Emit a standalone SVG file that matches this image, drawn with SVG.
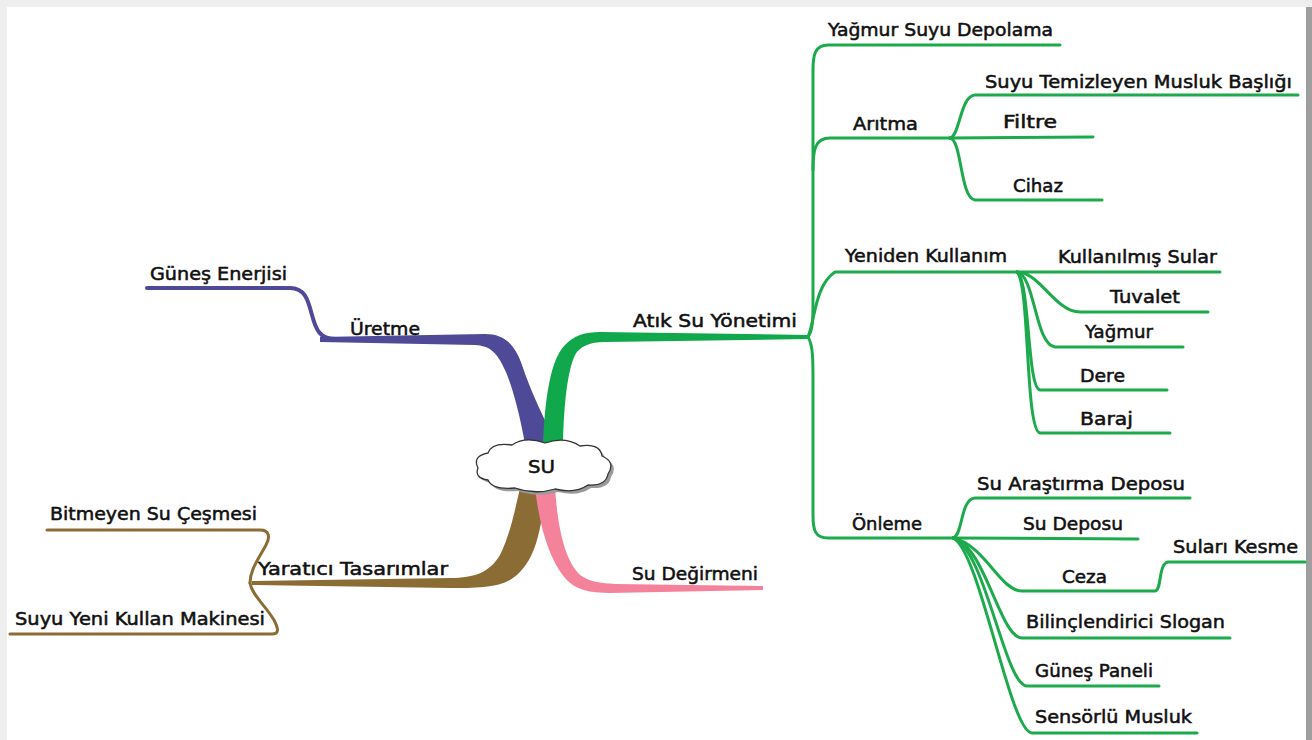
<svg xmlns="http://www.w3.org/2000/svg" width="1312" height="740" viewBox="0 0 1312 740">
<style>
.t{font-family:"DejaVu Sans","Liberation Sans",sans-serif;font-size:18.5px;fill:#111;stroke:#111;stroke-width:0.55px;}
.g{fill:none;stroke:#1caa4c;stroke-width:3;stroke-linecap:round;stroke-linejoin:round;}
.p{fill:none;stroke:#4e4a98;stroke-width:4;stroke-linecap:round;}
.b{fill:none;stroke:#8c6c35;stroke-width:3;stroke-linecap:round;}
</style>
<rect width="1312" height="740" fill="#ffffff"/>
<rect x="0" y="0" width="1312" height="7" fill="#eeeeee"/>
<rect x="0" y="0" width="7" height="740" fill="#eeeeee"/>
<rect x="1306" y="7" width="6" height="733" fill="#9e9e9e"/>
<g id="connectors">
  <path d="M320,337 L485,334 C505,334 515,345 522,365 C530,390 545,420 556,444 L525,444 C520,415 512,385 505,370 C497,352 490,346 475,345 L320,342 Z" fill="#4e4a98"/>
  <path d="M543,444 C545,400 550,360 565,345 C575,335 585,332 600,332 L808,335 L808,339 L605,342 C590,342 580,346 575,355 C568,370 564,400 563,444 Z" fill="#10a84b"/>
  <path d="M545,488 C542,530 535,565 510,580 C495,588 475,588 450,588 L252,585 L252,581 L450,578 C475,578 490,572 500,555 C510,535 515,510 520,488 Z" fill="#8c6c35"/>
  <path d="M555,488 C558,530 565,560 580,575 C590,582 600,583 615,584 L763,586 L763,590 L610,593 C590,593 575,590 565,578 C550,560 540,530 535,488 Z" fill="#f4829b"/>
  <path class="p" d="M147,288 L290,288 C305,288 308,300 312,315 C316,330 320,339 335,339"/>
  <path class="b" d="M47,530 L260,530 C270,530 270,538 266,545 C258,560 250,570 250,583"/>
  <path class="b" d="M10,634 L272,634 C280,634 278,628 274,620 C265,605 252,595 250,583"/>
  <path class="g" d="M808,337 C813,330 813,320 813,300 L813,70 C813,55 815,45 828,45 L1060,45"/>
  <path class="g" d="M813,170 C813,150 815,138 830,138 L950,138"/>
  <path class="g" d="M808,337 C815,320 815,285 835,272 L1220,272"/>
  <path class="g" d="M808,337 C813,345 813,360 813,380 L813,515 C813,530 815,538 828,538 L953,538"/>
  <path class="g" d="M1017,272 C1040,272 1055,312 1080,312 L1208,312"/>
  <path class="g" d="M1017,272 C1035,275 1035,345 1055,347 L1183,347"/>
  <path class="g" d="M1017,272 C1030,280 1027,388 1040,390 L1167,390"/>
  <path class="g" d="M1017,272 C1030,285 1025,430 1040,433 L1170,433"/>
  <path class="g" d="M950,138 C960,136 960,96 975,95 L1298,95"/>
  <path class="g" d="M950,138 L1093,137"/>
  <path class="g" d="M950,138 C962,140 960,198 975,200 L1102,200"/>
  <path class="g" d="M953,538 C963,536 960,499 975,498 L1190,498"/>
  <path class="g" d="M953,538 L1138,539"/>
  <path class="g" d="M953,538 C985,545 1000,591 1022,591 L1155,591 C1162,590 1158,564 1168,562 L1305,562"/>
  <path class="g" d="M953,538 C985,545 1000,638 1022,638 L1230,638"/>
  <path class="g" d="M953,538 C985,548 1005,686 1027,686 L1159,686"/>
  <path class="g" d="M953,538 C980,550 1010,733 1032,733 L1197,733"/>
</g>
<g id="node-su">
  <path d="M478,468 Q472,456 488,453 Q492,442 512,445 Q525,436 545,443 Q565,436 580,446 Q600,443 602,456 Q616,462 608,474 Q606,486 588,485 Q575,494 555,489 Q535,495 515,488 Q492,490 488,480 Q474,478 478,468 Z" fill="#9a9a9a" transform="translate(3,3)"/>
  <path d="M478,468 Q472,456 488,453 Q492,442 512,445 Q525,436 545,443 Q565,436 580,446 Q600,443 602,456 Q616,462 608,474 Q606,486 588,485 Q575,494 555,489 Q535,495 515,488 Q492,490 488,480 Q474,478 478,468 Z" fill="#ffffff" stroke="#333" stroke-width="1.3"/>
  <text class="t" x="528" y="473" textLength="27" lengthAdjust="spacingAndGlyphs">SU</text>
</g>
<g id="node-uretme"><text class="t" x="350" y="335" textLength="70" lengthAdjust="spacingAndGlyphs">Üretme</text></g>
<g id="node-gunes-enerjisi"><text class="t" x="150" y="280" textLength="137" lengthAdjust="spacingAndGlyphs">Güneş Enerjisi</text></g>
<g id="node-yaratici"><text class="t" x="258" y="575" textLength="190" lengthAdjust="spacingAndGlyphs">Yaratıcı Tasarımlar</text></g>
<g id="node-bitmeyen"><text class="t" x="50" y="520" textLength="207" lengthAdjust="spacingAndGlyphs">Bitmeyen Su Çeşmesi</text></g>
<g id="node-suyu-yeni"><text class="t" x="15" y="625" textLength="250" lengthAdjust="spacingAndGlyphs">Suyu Yeni Kullan Makinesi</text></g>
<g id="node-su-degirmeni"><text class="t" x="632" y="580" textLength="126" lengthAdjust="spacingAndGlyphs">Su Değirmeni</text></g>
<g id="node-atik"><text class="t" x="633" y="327" textLength="164" lengthAdjust="spacingAndGlyphs">Atık Su Yönetimi</text></g>
<g id="node-yagmur-depolama"><text class="t" x="828" y="36" textLength="225" lengthAdjust="spacingAndGlyphs">Yağmur Suyu Depolama</text></g>
<g id="node-aritma"><text class="t" x="853" y="130" textLength="65" lengthAdjust="spacingAndGlyphs">Arıtma</text></g>
<g id="node-musluk-basligi"><text class="t" x="985" y="88" textLength="307" lengthAdjust="spacingAndGlyphs">Suyu Temizleyen Musluk Başlığı</text></g>
<g id="node-filtre"><text class="t" x="1003" y="128" textLength="54" lengthAdjust="spacingAndGlyphs">Filtre</text></g>
<g id="node-cihaz"><text class="t" x="1013" y="192" textLength="50" lengthAdjust="spacingAndGlyphs">Cihaz</text></g>
<g id="node-yeniden"><text class="t" x="845" y="262" textLength="162" lengthAdjust="spacingAndGlyphs">Yeniden Kullanım</text></g>
<g id="node-kullanilmis"><text class="t" x="1058" y="263" textLength="159" lengthAdjust="spacingAndGlyphs">Kullanılmış Sular</text></g>
<g id="node-tuvalet"><text class="t" x="1110" y="303" textLength="70" lengthAdjust="spacingAndGlyphs">Tuvalet</text></g>
<g id="node-yagmur"><text class="t" x="1085" y="338" textLength="68" lengthAdjust="spacingAndGlyphs">Yağmur</text></g>
<g id="node-dere"><text class="t" x="1080" y="382" textLength="45" lengthAdjust="spacingAndGlyphs">Dere</text></g>
<g id="node-baraj"><text class="t" x="1080" y="425" textLength="53" lengthAdjust="spacingAndGlyphs">Baraj</text></g>
<g id="node-onleme"><text class="t" x="852" y="530" textLength="70" lengthAdjust="spacingAndGlyphs">Önleme</text></g>
<g id="node-arastirma"><text class="t" x="977" y="490" textLength="208" lengthAdjust="spacingAndGlyphs">Su Araştırma Deposu</text></g>
<g id="node-su-deposu"><text class="t" x="1023" y="530" textLength="100" lengthAdjust="spacingAndGlyphs">Su Deposu</text></g>
<g id="node-ceza"><text class="t" x="1062" y="583" textLength="45" lengthAdjust="spacingAndGlyphs">Ceza</text></g>
<g id="node-sulari-kesme"><text class="t" x="1173" y="553" textLength="125" lengthAdjust="spacingAndGlyphs">Suları Kesme</text></g>
<g id="node-slogan"><text class="t" x="1026" y="628" textLength="199" lengthAdjust="spacingAndGlyphs">Bilinçlendirici Slogan</text></g>
<g id="node-gunes-paneli"><text class="t" x="1035" y="677" textLength="118" lengthAdjust="spacingAndGlyphs">Güneş Paneli</text></g>
<g id="node-sensorlu"><text class="t" x="1035" y="723" textLength="157" lengthAdjust="spacingAndGlyphs">Sensörlü Musluk</text></g>
</svg>
